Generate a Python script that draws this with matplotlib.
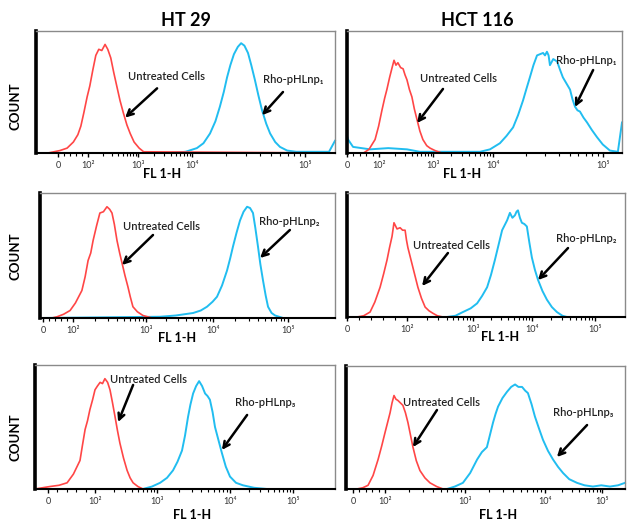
import numpy as np
import matplotlib
matplotlib.use("Agg")
import matplotlib.pyplot as plt

plt.rcParams['font.family'] = ['Lato', 'DejaVu Sans']

# channel (0-1000 of the display axis) and relative count (% of max)
ht29_1_ctrl_x = [0, 40, 60, 80, 104, 125, 140, 150, 160, 171, 180, 190, 200, 210, 220, 231, 240, 250,
                 260, 270, 281, 292, 304, 315, 328, 345, 360, 1000]
ht29_1_ctrl_y = [0, 0, 1, 2, 4, 9, 15, 22, 33, 46, 55, 68, 80, 85, 84, 89, 85, 78,
                 66, 55, 43, 33, 23, 16, 9, 4, 1, 0]
ht29_1_np_x = [0, 450, 500, 538, 560, 582, 600, 615, 628, 639, 650, 662, 675, 686, 697, 709, 720, 732,
               744, 756, 770, 783, 800, 816, 840, 870, 980, 1000]
ht29_1_np_y = [0, 0, 1, 4, 8, 16, 26, 38, 50, 62, 72, 81, 87, 90, 88, 82, 72, 60,
               47, 35, 24, 16, 9, 5, 2, 1, 1, 10]

hct_1_ctrl_x = [0, 60, 80, 102, 115, 127, 137, 145, 155, 164, 171, 178, 185, 195, 204, 211, 218, 227,
                236, 245, 255, 265, 276, 290, 302, 320, 345, 1000]
hct_1_ctrl_y = [0, 0, 3, 11, 22, 35, 45, 52, 62, 70, 76, 72, 74, 70, 69, 64, 60, 52,
                46, 36, 27, 18, 11, 6, 4, 2, 0, 0]
hct_1_np_x = [0, 4, 22, 84, 150, 218, 265, 400, 484, 520, 556, 580, 604, 622, 640, 653, 665, 678, 691,
              702, 713, 720, 727, 733, 738, 750, 764, 775, 785, 798, 811, 820, 829, 838, 847, 860,
              873, 890, 909, 930, 956, 985, 1000]
hct_1_np_y = [14, 11, 5, 3, 4, 3, 1, 1, 1, 3, 8, 14, 21, 31, 43, 53, 62, 72, 80,
              81, 82, 80, 83, 80, 72, 77, 75, 68, 62, 57, 52, 44, 38, 35, 34, 29,
              25, 19, 13, 7, 2, 1, 25]

ht29_2_ctrl_x = [0, 40, 58, 80, 102, 120, 142, 153, 163, 172, 180, 192, 203, 215, 227, 236, 244, 252,
                 261, 270, 278, 288, 298, 306, 315, 330, 349, 380, 1000]
ht29_2_ctrl_y = [0, 0, 1, 3, 6, 12, 22, 33, 46, 52, 62, 74, 84, 85, 89, 87, 84, 75,
                 62, 52, 44, 34, 25, 17, 9, 5, 2, 0, 0]
ht29_2_np_x = [0, 407, 460, 519, 545, 566, 585, 600, 617, 634, 645, 654, 666, 678, 690, 702, 712, 722,
               730, 739, 747, 756, 765, 773, 785, 797, 824, 1000]
ht29_2_np_y = [0, 1, 2, 4, 6, 9, 13, 17, 26, 38, 48, 57, 68, 78, 85, 89, 88, 84,
               72, 57, 43, 30, 18, 9, 4, 2, 0, 0]

hct_2_ctrl_x = [0, 36, 60, 83, 100, 119, 132, 144, 153, 162, 169, 180, 191, 200, 209, 214, 219, 228,
                237, 246, 255, 268, 281, 295, 309, 325, 345, 1000]
hct_2_ctrl_y = [0, 0, 1, 4, 12, 24, 35, 46, 56, 65, 76, 71, 72, 70, 70, 62, 56, 48,
                40, 32, 24, 15, 8, 5, 3, 1, 0, 0]
hct_2_np_x = [0, 360, 390, 417, 445, 468, 486, 504, 518, 532, 545, 558, 567, 576, 586, 595, 604, 610,
              615, 622, 629, 638, 647, 656, 665, 676, 687, 703, 719, 737, 755, 775, 791, 1000]
hct_2_np_y = [0, 0, 1, 4, 7, 11, 17, 24, 34, 46, 58, 70, 74, 78, 84, 80, 82, 85,
              86, 80, 76, 75, 73, 60, 48, 38, 30, 21, 14, 8, 4, 1, 0, 0]

ht29_3_ctrl_x = [0, 50, 80, 107, 128, 150, 158, 167, 175, 183, 192, 200, 208, 217, 225, 233, 242, 250,
                 258, 267, 275, 283, 295, 307, 317, 327, 343, 360, 1000]
ht29_3_ctrl_y = [0, 2, 3, 5, 12, 23, 35, 48, 55, 64, 72, 80, 83, 86, 85, 89, 86, 80,
                 70, 58, 47, 37, 25, 15, 9, 5, 2, 0, 0]
ht29_3_np_x = [0, 360, 390, 417, 440, 460, 475, 490, 500, 510, 518, 527, 537, 547, 557, 567, 575, 583,
               592, 600, 612, 623, 636, 650, 670, 693, 730, 773, 1000]
ht29_3_np_y = [0, 0, 2, 5, 9, 15, 22, 31, 43, 58, 68, 77, 83, 87, 83, 77, 75, 72,
               62, 50, 39, 29, 18, 10, 5, 3, 1, 0, 0]

hct_3_ctrl_x = [0, 39, 60, 79, 97, 115, 128, 140, 149, 158, 165, 172, 179, 186, 195, 204, 213, 222,
                231, 240, 252, 265, 283, 301, 325, 348, 1000]
hct_3_ctrl_y = [0, 0, 1, 3, 11, 24, 35, 46, 54, 62, 70, 76, 73, 72, 70, 68, 62, 54,
                44, 34, 23, 15, 9, 5, 2, 0, 0]
hct_3_np_x = [0, 362, 390, 419, 445, 470, 487, 505, 516, 527, 536, 545, 561, 577, 592, 606, 618, 631,
              642, 652, 665, 677, 692, 706, 724, 742, 760, 778, 800, 828, 855, 885, 915, 946, 975, 1000]
hct_3_np_y = [0, 0, 2, 5, 13, 24, 30, 34, 44, 54, 61, 67, 74, 79, 83, 85, 83, 83,
              80, 78, 69, 59, 49, 40, 31, 24, 18, 13, 8, 5, 3, 2, 3, 2, 3, 5]

tick_labels = ["0", "10²", "10³", "10⁴", "10⁵"]
ticks_ht29_1 = [74, 174, 341, 522, 900]
ticks_hct_1 = [0, 116, 313, 531, 930]
ticks_ht29_2 = [10, 112, 359, 586, 840]
ticks_hct_2 = [0, 216, 453, 665, 892]
ticks_ht29_3 = [43, 200, 407, 650, 860]
ticks_hct_3 = [25, 140, 427, 713, 918]

np_names = ["Rho-pHLnp₁", "Rho-pHLnp₂", "Rho-pHLnp₃"]

W, H = 627, 525
RED = '#ff4646'
BLUE = '#21bdf0'

fig = plt.figure(figsize=(W / 100, H / 100), dpi=100)

# panel boxes in pixels: left, right, top, bottom
panels = [
    ((36, 335, 31, 153), ht29_1_ctrl_x, ht29_1_ctrl_y, ht29_1_np_x, ht29_1_np_y, ticks_ht29_1, np_names[0],
     ((0.308, 0.63), (0.405, 0.53), (0.298, 0.29)), ((0.759, 0.60), (0.826, 0.50), (0.756, 0.31))),
    ((347, 622, 31, 153), hct_1_ctrl_x, hct_1_ctrl_y, hct_1_np_x, hct_1_np_y, ticks_hct_1, np_names[0],
     ((0.265, 0.61), (0.349, 0.525), (0.255, 0.246)), ((0.76, 0.76), (0.895, 0.68), (0.829, 0.377))),
    ((40, 335, 193, 318), ht29_2_ctrl_x, ht29_2_ctrl_y, ht29_2_np_x, ht29_2_np_y, ticks_ht29_2, np_names[1],
     ((0.281, 0.73), (0.383, 0.664), (0.278, 0.424)), ((0.742, 0.77), (0.847, 0.704), (0.746, 0.48))),
    ((347, 625, 193, 317), hct_2_ctrl_x, hct_2_ctrl_y, hct_2_np_x, hct_2_np_y, ticks_hct_2, np_names[1],
     ((0.237, 0.573), (0.363, 0.516), (0.27, 0.25)), ((0.752, 0.637), (0.795, 0.556), (0.687, 0.298))),
    ((35, 335, 365, 489), ht29_3_ctrl_x, ht29_3_ctrl_y, ht29_3_np_x, ht29_3_np_y, ticks_ht29_3, np_names[2],
     ((0.25, 0.887), (0.327, 0.839), (0.277, 0.54)), ((0.667, 0.694), (0.707, 0.597), (0.623, 0.315))),
    ((346, 625, 366, 489), hct_3_ctrl_x, hct_3_ctrl_y, hct_3_np_x, hct_3_np_y, ticks_hct_3, np_names[2],
     ((0.204, 0.707), (0.326, 0.642), (0.24, 0.341)), ((0.742, 0.618), (0.864, 0.52), (0.756, 0.26))),
]

for (l, r, t, b), cx, cy, nx, ny, ticks, nname, ctrl_ann, np_ann in panels:
    ax = fig.add_axes([l / W, 1 - b / H, (r - l) / W, (b - t) / H])
    ax.plot(nx, ny, color=BLUE, lw=1.4, clip_on=False)
    ax.plot(cx, cy, color=RED, lw=1.2, clip_on=False)
    ax.set_xlim(0, 1000)
    ax.set_ylim(0, 100)
    ax.set_yticks([])
    ax.set_xticks(ticks)
    ax.set_xticklabels(tick_labels, fontsize=6.5, color='#333333')
    # minor ticks between decades
    minor = []
    for k in range(1, 4):
        for m in range(2, 10):
            minor.append(ticks[k] + (ticks[k + 1] - ticks[k]) * np.log10(m))
    minor += list(np.linspace(ticks[0], ticks[1], 6)[1:-1])
    ax.set_xticks(minor, minor=True)
    ax.tick_params(axis='x', which='major', length=3, width=1, pad=3, colors='black')
    ax.tick_params(axis='x', which='minor', length=2, width=0.8)
    for lab in ax.get_xticklabels():
        lab.set_color('#333333')
    ax.spines['left'].set_linewidth(2.6)
    ax.spines['left'].set_color('black')
    ax.spines['bottom'].set_linewidth(1.5)
    ax.spines['bottom'].set_color('black')
    for s in ('top', 'right'):
        ax.spines[s].set_color('#8a8a8a')
        ax.spines[s].set_linewidth(1.0)

    arrow = dict(arrowstyle='->', lw=1.8, color='black', mutation_scale=11, shrinkA=0, shrinkB=0)
    ax.text(ctrl_ann[0][0], ctrl_ann[0][1], "Untreated Cells", transform=ax.transAxes,
            fontsize=8, fontweight='semibold', ha='left', va='center', color='#222222')
    ax.annotate("", xy=ctrl_ann[2], xytext=ctrl_ann[1], xycoords='axes fraction',
                textcoords='axes fraction', arrowprops=arrow)
    ax.text(np_ann[0][0], np_ann[0][1], nname, transform=ax.transAxes,
            fontsize=8, fontweight='semibold', ha='left', va='center', color='#222222')
    ax.annotate("", xy=np_ann[2], xytext=np_ann[1], xycoords='axes fraction',
                textcoords='axes fraction', arrowprops=arrow)

# axis labels placed like the original composite
for x, y in [(162, 174), (462, 174), (177, 338), (500, 337), (192, 515), (498, 515)]:
    fig.text(x / W, 1 - y / H, "FL 1-H", fontsize=9, fontweight='bold', ha='center', va='center')
for y in [106, 256, 437]:
    fig.text(15 / W, 1 - y / H, "COUNT", fontsize=9.5, fontweight='bold', rotation=90,
             ha='center', va='center')

fig.text(186 / W, 1 - 20 / H, "HT 29", fontsize=13, fontweight='bold', ha='center', va='center')
fig.text(477 / W, 1 - 20 / H, "HCT 116", fontsize=13, fontweight='bold', ha='center', va='center')

fig.savefig("out.png", dpi=100)
